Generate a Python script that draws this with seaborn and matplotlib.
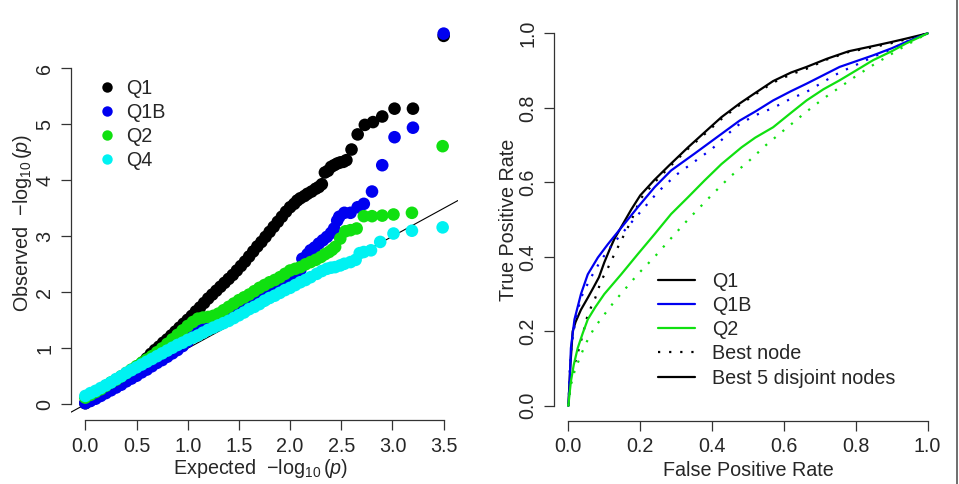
import numpy as np
import pandas as pd
import seaborn as sns
import matplotlib.pyplot as plt
from matplotlib.lines import Line2D

sns.set_style('ticks')
plt.rcParams['font.family'] = ['Liberation Sans', 'DejaVu Sans']
plt.rcParams['mathtext.fontset'] = 'custom'
plt.rcParams['mathtext.rm'] = 'Liberation Sans'
plt.rcParams['mathtext.it'] = 'Liberation Sans:italic'

# ---- QQ plot data (expected vs observed -log10 p) ----
q1_exp = [0.00, 0.04, 0.08, 0.12, 0.16, 0.20, 0.24, 0.28, 0.32, 0.36, 0.40, 0.44, 0.48, 0.52,
          0.56, 0.60, 0.64, 0.68, 0.72, 0.76, 0.80, 0.84, 0.88, 0.92, 0.96, 1.00, 1.04, 1.08,
          1.12, 1.16, 1.20, 1.24, 1.28, 1.32, 1.36, 1.40, 1.44, 1.48, 1.52, 1.56, 1.60, 1.64,
          1.68, 1.72, 1.76, 1.80, 1.84, 1.88, 1.92, 1.96, 2.00, 2.04, 2.07, 2.10, 2.14, 2.17,
          2.21, 2.25, 2.28, 2.31, 2.34, 2.37, 2.40, 2.43, 2.46, 2.49, 2.52, 2.55, 2.60, 2.66,
          2.73, 2.81, 2.90, 3.02, 3.20, 3.50]
q1_obs = [0.02, 0.06, 0.10, 0.14, 0.19, 0.24, 0.29, 0.34, 0.40, 0.45, 0.51, 0.56, 0.62, 0.69,
          0.75, 0.82, 0.90, 0.97, 1.03, 1.10, 1.16, 1.23, 1.30, 1.37, 1.44, 1.51, 1.58, 1.66,
          1.73, 1.81, 1.89, 1.96, 2.03, 2.10, 2.17, 2.24, 2.31, 2.39, 2.47, 2.55, 2.64, 2.73,
          2.82, 2.90, 2.99, 3.08, 3.17, 3.26, 3.35, 3.44, 3.52, 3.58, 3.64, 3.68, 3.72, 3.76,
          3.80, 3.85, 3.88, 3.93, 4.14, 4.17, 4.24, 4.27, 4.30, 4.32, 4.33, 4.36, 4.55, 4.82,
          4.99, 5.04, 5.14, 5.28, 5.28, 6.58]

q1b_exp = [0.00, 0.05, 0.10, 0.15, 0.20, 0.25, 0.30, 0.35, 0.40, 0.45, 0.50, 0.55, 0.60, 0.65,
           0.70, 0.75, 0.80, 0.85, 0.90, 0.95, 1.00, 1.05, 1.10, 1.15, 1.20, 1.25, 1.30, 1.35,
           1.40, 1.45, 1.50, 1.55, 1.60, 1.65, 1.70, 1.75, 1.80, 1.85, 1.90, 1.95, 2.00, 2.05,
           2.10, 2.12, 2.17, 2.20, 2.24, 2.28, 2.32, 2.36, 2.40, 2.43, 2.46, 2.48, 2.53, 2.59,
           2.66, 2.72, 2.80, 2.90, 3.02, 3.20, 3.50]
q1b_obs = [0.02, 0.06, 0.10, 0.15, 0.20, 0.25, 0.30, 0.35, 0.41, 0.46, 0.51, 0.57, 0.62, 0.68,
           0.74, 0.79, 0.85, 0.91, 0.97, 1.04, 1.12, 1.22, 1.30, 1.34, 1.38, 1.42, 1.47, 1.52,
           1.57, 1.62, 1.67, 1.72, 1.77, 1.82, 1.88, 1.93, 1.99, 2.05, 2.12, 2.19, 2.27, 2.34,
           2.40, 2.60, 2.68, 2.75, 2.80, 2.87, 2.93, 2.99, 3.06, 3.14, 3.28, 3.35, 3.42, 3.42,
           3.52, 3.58, 3.80, 4.27, 4.77, 4.94, 6.62]

q2_exp = [0.00, 0.05, 0.10, 0.15, 0.20, 0.25, 0.30, 0.35, 0.40, 0.45, 0.50, 0.55, 0.60, 0.65,
          0.70, 0.75, 0.80, 0.85, 0.90, 0.95, 1.00, 1.05, 1.10, 1.15, 1.20, 1.25, 1.30, 1.35,
          1.40, 1.45, 1.50, 1.55, 1.60, 1.65, 1.70, 1.75, 1.80, 1.85, 1.90, 1.95, 2.00, 2.05,
          2.10, 2.15, 2.20, 2.25, 2.30, 2.34, 2.38, 2.41, 2.44, 2.49, 2.54, 2.59, 2.65, 2.72,
          2.80, 2.90, 3.01, 3.19, 3.49]
q2_obs = [0.12, 0.17, 0.22, 0.27, 0.33, 0.39, 0.44, 0.50, 0.56, 0.62, 0.68, 0.74, 0.80, 0.86,
          0.93, 1.00, 1.08, 1.16, 1.24, 1.32, 1.40, 1.47, 1.53, 1.55, 1.56, 1.58, 1.62, 1.68,
          1.74, 1.80, 1.86, 1.91, 1.96, 2.02, 2.08, 2.13, 2.18, 2.22, 2.27, 2.33, 2.39, 2.42,
          2.45, 2.50, 2.54, 2.58, 2.63, 2.68, 2.72, 2.76, 2.81, 2.96, 3.09, 3.11, 3.14, 3.36,
          3.36, 3.37, 3.39, 3.42, 4.61]

q4_exp = [0.00, 0.05, 0.10, 0.15, 0.20, 0.25, 0.30, 0.35, 0.40, 0.45, 0.50, 0.55, 0.60, 0.65,
          0.70, 0.75, 0.80, 0.85, 0.90, 0.95, 1.00, 1.05, 1.10, 1.15, 1.20, 1.25, 1.30, 1.35,
          1.40, 1.45, 1.50, 1.55, 1.60, 1.65, 1.70, 1.75, 1.80, 1.85, 1.90, 1.95, 2.00, 2.05,
          2.10, 2.15, 2.20, 2.26, 2.31, 2.36, 2.40, 2.44, 2.49, 2.53, 2.59, 2.64, 2.68, 2.72,
          2.79, 2.88, 3.01, 3.19, 3.49]
q4_obs = [0.15, 0.20, 0.24, 0.29, 0.34, 0.39, 0.45, 0.50, 0.56, 0.61, 0.66, 0.71, 0.76, 0.81,
          0.86, 0.91, 0.96, 1.01, 1.06, 1.10, 1.15, 1.19, 1.23, 1.28, 1.33, 1.37, 1.41, 1.45,
          1.49, 1.54, 1.59, 1.64, 1.70, 1.74, 1.79, 1.85, 1.90, 1.94, 1.99, 2.04, 2.08, 2.13,
          2.18, 2.22, 2.27, 2.33, 2.38, 2.42, 2.44, 2.45, 2.48, 2.51, 2.54, 2.58, 2.70, 2.72,
          2.75, 2.90, 3.05, 3.10, 3.16]

# ---- ROC data ----
q1_fpr_best5 = [0, 0.005, 0.012, 0.02, 0.035, 0.054, 0.07, 0.085, 0.10, 0.115, 0.128, 0.15,
                0.175, 0.2, 0.24, 0.28, 0.333, 0.38, 0.426, 0.477, 0.52, 0.57, 0.62, 0.663,
                0.72, 0.78, 0.848, 0.9, 0.94, 1.0]
q1_tpr_best5 = [0, 0.10, 0.20, 0.225, 0.258, 0.29, 0.318, 0.345, 0.385, 0.42, 0.448, 0.485,
                0.527, 0.565, 0.607, 0.645, 0.694, 0.735, 0.775, 0.812, 0.84, 0.872, 0.895,
                0.91, 0.932, 0.952, 0.966, 0.977, 0.986, 1.0]
q1_fpr_node = [0, 0.005, 0.017, 0.035, 0.054, 0.075, 0.091, 0.11, 0.128, 0.156, 0.175, 0.2,
               0.24, 0.28, 0.333, 0.38, 0.426, 0.477, 0.52, 0.57, 0.62, 0.663, 0.72, 0.78,
               0.848, 0.9, 0.94, 1.0]
q1_tpr_node = [0, 0.05, 0.11, 0.173, 0.245, 0.29, 0.335, 0.37, 0.407, 0.461, 0.497, 0.555,
               0.60, 0.64, 0.69, 0.73, 0.77, 0.808, 0.836, 0.868, 0.89, 0.905, 0.93, 0.95,
               0.963, 0.974, 0.984, 1.0]

q1b_fpr_best5 = [0, 0.003, 0.007, 0.017, 0.035, 0.054, 0.082, 0.11, 0.147, 0.193, 0.24, 0.286,
                 0.351, 0.426, 0.477, 0.52, 0.57, 0.62, 0.663, 0.71, 0.755, 0.80, 0.848, 0.9,
                 0.94, 1.0]
q1b_tpr_best5 = [0, 0.047, 0.155, 0.232, 0.30, 0.353, 0.398, 0.434, 0.478, 0.533, 0.587, 0.632,
                 0.677, 0.73, 0.766, 0.79, 0.82, 0.845, 0.865, 0.888, 0.91, 0.925, 0.941, 0.96,
                 0.977, 1.0]
q1b_fpr_node = [0, 0.004, 0.01, 0.02, 0.035, 0.06, 0.09, 0.12, 0.16, 0.2, 0.25, 0.3, 0.35, 0.4,
                0.45, 0.477, 0.52, 0.57, 0.62, 0.663, 0.71, 0.755, 0.80, 0.848, 0.9, 0.94, 1.0]
q1b_tpr_node = [0, 0.1, 0.17, 0.23, 0.29, 0.34, 0.39, 0.43, 0.475, 0.52, 0.575, 0.62, 0.655,
                0.69, 0.735, 0.757, 0.78, 0.80, 0.825, 0.843, 0.87, 0.895, 0.915, 0.937, 0.958,
                0.977, 1.0]

q2_fpr_best5 = [0, 0.003, 0.007, 0.015, 0.026, 0.04, 0.054, 0.075, 0.1, 0.147, 0.193, 0.24,
                0.286, 0.333, 0.379, 0.426, 0.482, 0.52, 0.57, 0.62, 0.663, 0.71, 0.755, 0.80,
                0.848, 0.9, 0.94, 1.0]
q2_tpr_best5 = [0, 0.03, 0.065, 0.11, 0.155, 0.195, 0.232, 0.265, 0.30, 0.353, 0.407, 0.461,
                0.515, 0.56, 0.605, 0.649, 0.694, 0.72, 0.748, 0.787, 0.82, 0.85, 0.874, 0.90,
                0.928, 0.952, 0.973, 1.0]
q2_fpr_node = [0, 0.003, 0.008, 0.017, 0.035, 0.05, 0.072, 0.1, 0.128, 0.193, 0.24, 0.286,
               0.333, 0.398, 0.45, 0.5, 0.55, 0.6, 0.663, 0.71, 0.755, 0.80, 0.848, 0.9, 0.94,
               1.0]
q2_tpr_node = [0, 0.03, 0.06, 0.092, 0.137, 0.17, 0.209, 0.245, 0.28, 0.353, 0.40, 0.45, 0.50,
               0.565, 0.615, 0.655, 0.70, 0.74, 0.79, 0.825, 0.855, 0.885, 0.915, 0.945, 0.968,
               1.0]

qq_names = ['Q1', 'Q1B', 'Q2', 'Q4']
qq_colors = {'Q1': '#000000', 'Q1B': '#0000F0', 'Q2': '#10E010', 'Q4': '#00F2F2'}

qq = pd.concat([
    pd.DataFrame({'expected': q1_exp, 'observed': q1_obs, 'set': 'Q1'}),
    pd.DataFrame({'expected': q1b_exp, 'observed': q1b_obs, 'set': 'Q1B'}),
    pd.DataFrame({'expected': q2_exp, 'observed': q2_obs, 'set': 'Q2'}),
    pd.DataFrame({'expected': q4_exp, 'observed': q4_obs, 'set': 'Q4'}),
], ignore_index=True)

dotted = (0, (1, 4))
roc_curves = [
    ('Q1', q1_fpr_best5, q1_tpr_best5, '-'),
    ('Q1', q1_fpr_node, q1_tpr_node, dotted),
    ('Q1B', q1b_fpr_best5, q1b_tpr_best5, '-'),
    ('Q1B', q1b_fpr_node, q1b_tpr_node, dotted),
    ('Q2', q2_fpr_best5, q2_tpr_best5, '-'),
    ('Q2', q2_fpr_node, q2_tpr_node, dotted),
]

FS = 14.2
W, H = 959, 484
fig = plt.figure(figsize=(W / 100, H / 100), dpi=100)
ax1 = fig.add_axes([71 / W, 1 - 420 / H, 387 / W, 401.5 / H])
ax2 = fig.add_axes([554 / W, 1 - 420.7 / H, 388 / W, 402.2 / H])


def r_style(ax, xt, xl, yt, yl):
    for s in ['top', 'right']:
        ax.spines[s].set_visible(False)
    for s in ['left', 'bottom']:
        ax.spines[s].set_color('#333333')
        ax.spines[s].set_linewidth(0.9)
    ax.spines['left'].set_bounds(yt[0], yt[-1])
    ax.spines['bottom'].set_bounds(xt[0], xt[-1])
    ax.set_xticks(xt)
    ax.set_xticklabels(xl)
    ax.set_yticks(yt)
    ax.set_yticklabels(yl, rotation=90, va='center')
    ax.tick_params(direction='out', length=7.5, width=0.9, color='#333333', labelsize=FS,
                   pad=4.5)
    ax.set_facecolor('white')


# ---- left panel: QQ plot ----
ax1.axline((0, 0), slope=1, color='black', lw=0.8, zorder=1)
sns.scatterplot(data=qq, x='expected', y='observed', hue='set', palette=qq_colors,
                s=82, linewidth=0, alpha=1, legend=False, ax=ax1, zorder=2)
ax1.set_xlim(-0.14, 3.64)
ax1.set_ylim(-0.28, 6.89)
r_style(ax1, [0, 0.5, 1, 1.5, 2, 2.5, 3, 3.5],
        ['0.0', '0.5', '1.0', '1.5', '2.0', '2.5', '3.0', '3.5'],
        [0, 1, 2, 3, 4, 5, 6], ['0', '1', '2', '3', '4', '5', '6'])
ax1.set_xlabel(r'Expected  $-\log_{10}(p)$', fontsize=FS)
ax1.set_ylabel(r'Observed  $-\log_{10}(p)$', fontsize=FS)
ax1.xaxis.set_label_coords(0.49, -0.093)
ax1.yaxis.set_label_coords(-0.095, 0.49)

h1 = [Line2D([], [], ls='', marker='o', markersize=7.5, markeredgewidth=0, color=qq_colors[n])
      for n in qq_names]
ax1.legend(h1, qq_names, loc='upper left', bbox_to_anchor=(101.7 / W, 1 - 79 / H),
           bbox_transform=fig.transFigure, frameon=False, fontsize=FS, handlelength=0.5,
           handletextpad=0.75, labelspacing=0.26, borderpad=0, borderaxespad=0)

# ---- right panel: ROC ----
for name, fpr, tpr, ls in roc_curves:
    sns.lineplot(x=fpr, y=tpr, color=qq_colors[name], lw=1.6, linestyle=ls,
                 estimator=None, sort=False, ax=ax2)
ax2.set_xlim(-0.04, 1.04)
ax2.set_ylim(-0.04, 1.04)
rt = [0, 0.2, 0.4, 0.6, 0.8, 1.0]
rl = ['0.0', '0.2', '0.4', '0.6', '0.8', '1.0']
r_style(ax2, rt, rl, rt, rl)
ax2.set_xlabel('False Positive Rate', fontsize=FS)
ax2.set_ylabel('True Positive Rate', fontsize=FS)
ax2.xaxis.set_label_coords(0.5, -0.1)
ax2.yaxis.set_label_coords(-0.093, 0.5)

h2 = [Line2D([], [], color=qq_colors['Q1'], lw=1.6),
      Line2D([], [], color=qq_colors['Q1B'], lw=1.6),
      Line2D([], [], color=qq_colors['Q2'], lw=1.6),
      Line2D([], [], color='black', lw=1.6, ls=dotted),
      Line2D([], [], color='black', lw=1.6)]
ax2.legend(h2, ['Q1', 'Q1B', 'Q2', 'Best node', 'Best 5 disjoint nodes'], loc='upper left',
           bbox_to_anchor=(658 / W, 1 - 272 / H), bbox_transform=fig.transFigure,
           frameon=False, fontsize=FS, handlelength=1.86, handletextpad=0.9,
           labelspacing=0.26, borderpad=0, borderaxespad=0)

# thin frame line on the right edge of the picture
fig.add_artist(Line2D([956.5 / W, 956.5 / W], [0, 1], transform=fig.transFigure,
                      color='#555555', lw=1.2))

fig.savefig('out.png', dpi=100)
